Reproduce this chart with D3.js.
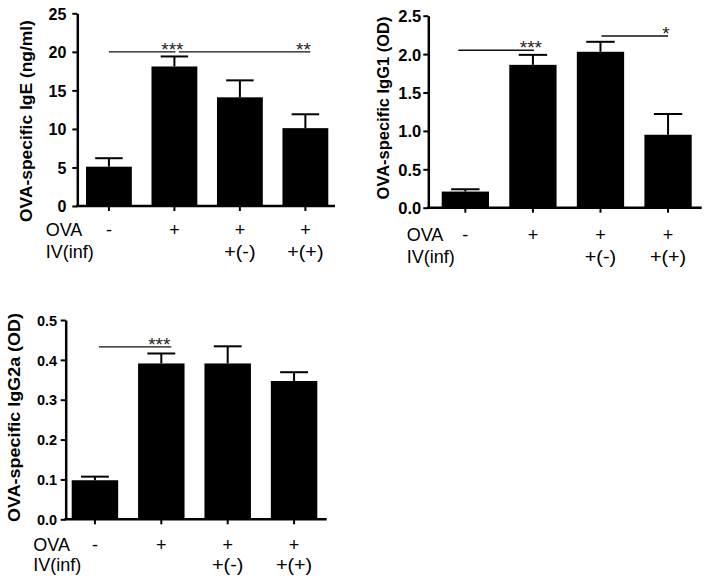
<!DOCTYPE html>
<html><head><meta charset="utf-8">
<script src="https://cdn.jsdelivr.net/npm/d3@7"></script>
<style>body{margin:0;background:#fff}svg{display:block}</style>
</head><body>
<svg id="c" width="709" height="583"></svg>
<script>
// ---- data ----
const categories = ["saline", "OVA", "OVA+IV(-)", "OVA+IV(+)"];
const ovaLabels = ["-", "+", "+", "+"];
const ivLabels = ["", "", "+(-)", "+(+)"];

const igeMean = [5.1, 18.1, 14.1, 10.1];
const igeSem = [1.1, 1.3, 2.2, 1.8];
const igeTicks = [0, 5, 10, 15, 20, 25];
const igeSig = [{from: 0, to: 1, y: 20, label: "***"}, {from: 1, to: 3, y: 20, label: "**"}];

const igg1Mean = [0.21, 1.86, 2.03, 0.95];
const igg1Sem = [0.03, 0.13, 0.13, 0.27];
const igg1Ticks = [0, 0.5, 1.0, 1.5, 2.0, 2.5];
const igg1Sig = [{from: 0, to: 1, y: 2.05, label: "***"}, {from: 2, to: 3, y: 2.235, label: "*"}];

const igg2aMean = [0.098, 0.391, 0.391, 0.347];
const igg2aSem = [0.009, 0.025, 0.043, 0.022];
const igg2aTicks = [0, 0.1, 0.2, 0.3, 0.4, 0.5];
const igg2aSig = [{from: 0, to: 1, y: 0.4326, label: "***"}];

// ---- layout ----
const FONT = "Arial, 'Liberation Sans', Helvetica, sans-serif";
const panels = [
  {mean: igeMean, sem: igeSem, ticks: igeTicks, sig: igeSig, label: "OVA-specific IgE (ng/ml)",
   fmt: d3.format("d"), yDomain: [0, 25], yRange: [206, 13.3], band: [86, 328.3], axisX: [77.3, 335],
   tickPad: 6, tickFont: 16, catY: [230, 251.5], catLeft: 45.7, yl: {x: 26.5, y: 121, len: 202, size: 16.5},
   sigOff: [[0, 1], [4.5, 5]]},
  {mean: igg1Mean, sem: igg1Sem, ticks: igg1Ticks, sig: igg1Sig, label: "OVA-specific IgG1 (OD)",
   fmt: d3.format(".1f"), yDomain: [0, 2.5], yRange: [207.7, 15.7], band: [441.7, 691.7], axisX: [428.3, 701.7],
   tickPad: 2, tickFont: 16.5, catY: [234.5, 256.7], catLeft: 406.7, yl: {x: 383, y: 108, len: 183, size: 16.5},
   sigOff: [[-7, 1], [1, 0]]},
  {mean: igg2aMean, sem: igg2aSem, ticks: igg2aTicks, sig: igg2aSig, label: "OVA-specific IgG2a (OD)",
   fmt: d3.format(".1f"), yDomain: [0, 0.5], yRange: [519.3, 320], band: [71.7, 317.3], axisX: [65.7, 326.7],
   tickPad: 3.5, tickFont: 14.5, catY: [545, 565], catLeft: 33.3, yl: {x: 14.7, y: 417.5, len: 209, size: 16},
   sigOff: [[4, 10]]}
];

const svg = d3.select("#c");

function txt(g, s, x, y, o) {
  const t = g.append("text")
    .attr("font-family", FONT)
    .attr("font-size", o.size)
    .attr("font-weight", o.bold ? "bold" : "normal")
    .attr("text-anchor", o.anchor || "middle")
    .attr("dy", "0.36em")
    .attr("fill", o.fill || "#000")
    .text(s);
  let sx = o.sx || 1;
  if (o.len) sx = o.len / t.node().getComputedTextLength();
  t.attr("transform", `translate(${x},${y})` + (o.rot ? ` rotate(${o.rot})` : "") + ` scale(${sx},1)`);
  return t;
}

panels.forEach(p => {
  const g = svg.append("g");
  const x = d3.scaleBand().domain(categories).range(p.band).paddingInner(0.3).paddingOuter(0);
  const y = d3.scaleLinear().domain(p.yDomain).range(p.yRange);
  const cx = i => x(categories[i]) + x.bandwidth() / 2;

  // bars
  g.selectAll("rect.bar").data(p.mean).join("rect")
    .attr("x", (d, i) => x(categories[i]))
    .attr("y", d => y(d))
    .attr("width", x.bandwidth())
    .attr("height", d => y(0) - y(d))
    .attr("fill", "#000");

  // error bars
  const cap = x.bandwidth() * 0.6;
  p.mean.forEach((m, i) => {
    g.append("line").attr("x1", cx(i)).attr("x2", cx(i)).attr("y1", y(m)).attr("y2", y(m + p.sem[i]))
      .attr("stroke", "#000").attr("stroke-width", 2);
    g.append("line").attr("x1", cx(i) - cap / 2).attr("x2", cx(i) + cap / 2)
      .attr("y1", y(m + p.sem[i])).attr("y2", y(m + p.sem[i]))
      .attr("stroke", "#000").attr("stroke-width", 2);
  });

  // y axis
  const ya = g.append("g").attr("transform", `translate(${p.axisX[0]},0)`)
    .call(d3.axisLeft(y).tickValues(p.ticks).tickFormat(p.fmt).tickSize(5).tickSizeOuter(0));
  ya.select(".domain").attr("stroke-width", 2.5).attr("stroke", "#000");
  ya.selectAll(".tick line").attr("stroke-width", 2).attr("stroke", "#000");
  ya.selectAll(".tick text")
    .attr("font-family", FONT).attr("font-size", p.tickFont).attr("font-weight", "bold")
    .attr("fill", "#000").attr("x", 0).attr("dy", "0.36em")
    .attr("transform", `translate(${-(5 + p.tickPad)},0)`);

  // x axis
  const xa = g.append("g").attr("transform", `translate(0,${y(0)})`)
    .call(d3.axisBottom(x).tickSize(5).tickFormat(""));
  xa.select(".domain").remove();
  xa.selectAll(".tick line").attr("stroke-width", 2).attr("stroke", "#000");
  g.append("line").attr("x1", p.axisX[0] - 1.25).attr("x2", p.axisX[1]).attr("y1", y(0)).attr("y2", y(0))
    .attr("stroke", "#000").attr("stroke-width", 2.5);

  // category rows
  txt(g, "OVA", p.catLeft, p.catY[0], {size: 18, anchor: "start"});
  txt(g, "IV(inf)", p.catLeft, p.catY[1], {size: 18, anchor: "start"});
  ovaLabels.forEach((s, i) => txt(g, s, cx(i), p.catY[0], {size: 18}));
  ivLabels.forEach((s, i) => { if (s) txt(g, s, cx(i), p.catY[1], {size: 18, sx: 1.1}); });

  // y label
  txt(g, p.label, p.yl.x, p.yl.y, {size: p.yl.size, bold: true, rot: -90, len: p.yl.len});

  // significance
  p.sig.forEach((s, k) => {
    const off = p.sigOff[k];
    g.append("line").attr("x1", cx(s.from) + off[0]).attr("x2", cx(s.to) + off[1])
      .attr("y1", y(s.y)).attr("y2", y(s.y)).attr("stroke", "#111").attr("stroke-width", 1.4);
    g.append("text").attr("font-family", FONT).attr("font-size", 19).attr("text-anchor", "middle")
      .attr("fill", "#222")
      .attr("transform", `translate(${cx(s.to) - 2},${y(s.y) + 4})`)
      .text(s.label);
  });
});
</script>
</body></html>
